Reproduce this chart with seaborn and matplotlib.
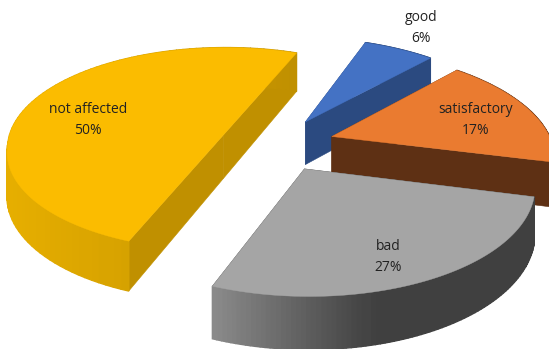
import numpy as np
import matplotlib
matplotlib.use("Agg")
import matplotlib.pyplot as plt
import seaborn as sns

categories = ["good", "satisfactory", "bad", "not affected"]
values = [6, 17, 27, 50]
top_colors = ["#4472C4", "#EA7B30", "#A5A5A5", "#FBBC00"]
cut_colors = ["#2B4A80", "#5E3014", "#4A4A4A", "#C09000"]
rim_colors = [["#2B4A80", "#2B4A80"], ["#5E3014", "#5E3014"],
              ["#8A8A8A", "#404040", "#404040"], ["#E6AE00", "#C09000"]]
label_pos = [(421, 28), (476, 120), (388, 257), (88, 120)]
explode = [0.265, 0.265, 0.265, 0.245]
draw_order = [0, 1, 3, 2]

START = 68.5
X0, Y0, A, B, K, DEPTH, LEAN = 277, 144, 220, 102, 0.14, 44, 8

sns.set_theme(style="white")
plt.rcParams["font.family"] = ["Open Sans", "DejaVu Sans"]
fig = plt.figure(figsize=(5.49, 3.49), dpi=100)
ax = fig.add_axes([0, 0, 1, 1])
ax.set_xlim(0, 549)
ax.set_ylim(349, 0)
ax.axis("off")


def project(X, Y):
    w = 1 + K * Y
    return (X0 + (A * X - LEAN * np.maximum(Y, 0)) / w,
            Y0 - B * Y / w, DEPTH / w)


spans = np.array(values) / sum(values) * 360
ends = START - np.cumsum(spans)
starts = ends + spans

for i in draw_order:
    layer = draw_order.index(i) * 3
    t0, t1 = starts[i], ends[i]
    mid = np.radians((t0 + t1) / 2)
    ox, oy = explode[i] * np.cos(mid), explode[i] * np.sin(mid)
    th = np.radians(np.linspace(t0, t1, 90))
    xs, ys, ds = project(ox + np.cos(th), oy + np.sin(th))
    cx, cy, cd = project(ox, oy)
    if spans[i] >= 180:  # a half pie has a straight cut edge
        cx = xs[0] + (xs[-1] - xs[0]) * (cy - ys[0]) / (ys[-1] - ys[0])
    # cut faces
    for k in (0, -1):
        ax.fill([cx, xs[k], xs[k], cx], [cy, ys[k], ys[k] + ds[k], cy + cd],
                color=cut_colors[i], lw=0.4, zorder=layer + 1)
    # outer rim with horizontal gradient
    pal = sns.blend_palette(rim_colors[i], 64)
    lo, hi = xs.min(), xs.max()
    for j in range(len(xs) - 1):
        f = ((xs[j] + xs[j + 1]) / 2 - lo) / max(hi - lo, 1)
        ax.fill([xs[j], xs[j + 1], xs[j + 1], xs[j]],
                [ys[j], ys[j + 1], ys[j + 1] + ds[j + 1], ys[j] + ds[j]],
                color=pal[min(int(f * 64), 63)], lw=1.0, zorder=layer + 1)
    # top
    ax.fill(np.r_[cx, xs], np.r_[cy, ys], color=top_colors[i], lw=0.3,
            zorder=layer + 2)

for name, val, (lx, ly) in zip(categories, values, label_pos):
    ax.text(lx, ly, f"{name}\n{val}%", ha="center", va="center", fontsize=10,
            color="#222222", linespacing=1.55, zorder=30)

fig.savefig("out.png", dpi=100)
